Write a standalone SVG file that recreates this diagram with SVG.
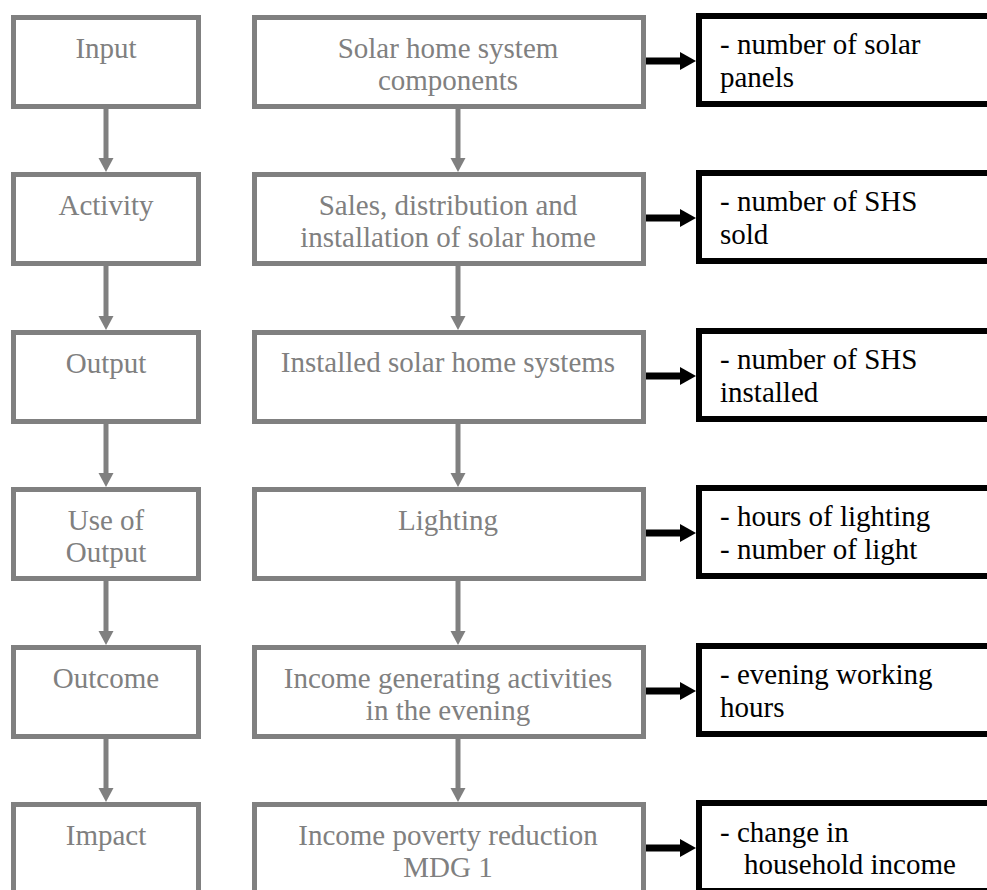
<svg xmlns="http://www.w3.org/2000/svg" width="987" height="890" viewBox="0 0 987 890">
<style>
.g{fill:#fff;stroke:#808080;stroke-width:5}
.b{fill:#fff;stroke:#000;stroke-width:6}
.tg{font-size:29px;fill:#808080;text-anchor:middle}
.tb{font-size:29px;fill:#000}
.ga{stroke:#808080;stroke-width:5;fill:none;marker-end:url(#gh)}
.ba{stroke:#000;stroke-width:7;fill:none;marker-end:url(#bh)}
</style>
<defs>
<marker id="gh" markerUnits="userSpaceOnUse" markerWidth="15" markerHeight="15" refX="0" refY="7.5" orient="auto" overflow="visible">
<path d="M0,0 L14,7.5 L0,15 Z" fill="#808080"/>
</marker>
<marker id="bh" markerUnits="userSpaceOnUse" markerWidth="17" markerHeight="18" refX="0" refY="9" orient="auto" overflow="visible">
<path d="M0,0 L16,9 L0,18 Z" fill="#000"/>
</marker>
</defs>
<rect width="987" height="890" fill="#fff"/>
<g id="connectors">
<line class="ga" x1="106" y1="109" x2="106" y2="158"/>
<line class="ga" x1="106" y1="266" x2="106" y2="316"/>
<line class="ga" x1="106" y1="424" x2="106" y2="473"/>
<line class="ga" x1="106" y1="581" x2="106" y2="631"/>
<line class="ga" x1="106" y1="739" x2="106" y2="788"/>
<line class="ga" x1="458" y1="109" x2="458" y2="158"/>
<line class="ga" x1="458" y1="266" x2="458" y2="316"/>
<line class="ga" x1="458" y1="424" x2="458" y2="473"/>
<line class="ga" x1="458" y1="581" x2="458" y2="631"/>
<line class="ga" x1="458" y1="739" x2="458" y2="788"/>
<line class="ba" x1="646" y1="61" x2="680" y2="61"/>
<line class="ba" x1="646" y1="218" x2="680" y2="218"/>
<line class="ba" x1="646" y1="376" x2="680" y2="376"/>
<line class="ba" x1="646" y1="533" x2="680" y2="533"/>
<line class="ba" x1="646" y1="691" x2="680" y2="691"/>
<line class="ba" x1="646" y1="848" x2="680" y2="848"/>
</g>
<g font-family="'Liberation Serif', Tinos, 'Times New Roman', 'DejaVu Serif', serif">
<g id="input">
<rect class="g" x="13.5" y="17.5" width="185" height="89"/>
<text class="tg" x="106" y="57.5">Input</text>
</g>
<g id="activity">
<rect class="g" x="13.5" y="174.5" width="185" height="89"/>
<text class="tg" x="106" y="214.5">Activity</text>
</g>
<g id="output">
<rect class="g" x="13.5" y="332.5" width="185" height="89"/>
<text class="tg" x="106" y="372.5">Output</text>
</g>
<g id="use-of-output">
<rect class="g" x="13.5" y="489.5" width="185" height="89"/>
<text class="tg" x="106" y="529.5">Use of</text>
<text class="tg" x="106" y="562">Output</text>
</g>
<g id="outcome">
<rect class="g" x="13.5" y="647.5" width="185" height="89"/>
<text class="tg" x="106" y="687.5">Outcome</text>
</g>
<g id="impact">
<rect class="g" x="13.5" y="804.5" width="185" height="89"/>
<text class="tg" x="106" y="844.5">Impact</text>
</g>
<g id="shs-components">
<rect class="g" x="254.5" y="17.5" width="389" height="89"/>
<text class="tg" x="448" y="57.5">Solar home system</text>
<text class="tg" x="448" y="90">components</text>
</g>
<g id="sales">
<rect class="g" x="254.5" y="174.5" width="389" height="89"/>
<text class="tg" x="448" y="214.5">Sales, distribution and</text>
<text class="tg" x="448" y="247">installation of solar home</text>
</g>
<g id="installed">
<rect class="g" x="254.5" y="332.5" width="389" height="89"/>
<text class="tg" x="448" y="372">Installed solar home systems</text>
</g>
<g id="lighting">
<rect class="g" x="254.5" y="489.5" width="389" height="89"/>
<text class="tg" x="448" y="529.5">Lighting</text>
</g>
<g id="income-activities">
<rect class="g" x="254.5" y="647.5" width="389" height="89"/>
<text class="tg" x="448" y="687.5">Income generating activities</text>
<text class="tg" x="448" y="720">in the evening</text>
</g>
<g id="poverty-reduction">
<rect class="g" x="254.5" y="804.5" width="389" height="89"/>
<text class="tg" x="448" y="844.5">Income poverty reduction</text>
<text class="tg" x="448" y="877">MDG 1</text>
</g>
<g id="ind-panels">
<rect class="b" x="699" y="16" width="400" height="88"/>
<text class="tb" x="720" y="54">- number of solar</text>
<text class="tb" x="720" y="87">panels</text>
</g>
<g id="ind-sold">
<rect class="b" x="699" y="173" width="400" height="88"/>
<text class="tb" x="720" y="211">- number of SHS</text>
<text class="tb" x="720" y="244">sold</text>
</g>
<g id="ind-installed">
<rect class="b" x="699" y="331" width="400" height="88"/>
<text class="tb" x="720" y="369">- number of SHS</text>
<text class="tb" x="720" y="402">installed</text>
</g>
<g id="ind-lighting">
<rect class="b" x="699" y="488" width="400" height="88"/>
<text class="tb" x="720" y="526">- hours of lighting</text>
<text class="tb" x="720" y="559">- number of light</text>
</g>
<g id="ind-hours">
<rect class="b" x="699" y="646" width="400" height="88"/>
<text class="tb" x="720" y="684">- evening working</text>
<text class="tb" x="720" y="717">hours</text>
</g>
<g id="ind-income">
<rect class="b" x="699" y="803" width="400" height="88"/>
<text class="tb" x="720" y="842">- change in</text>
<text class="tb" x="744" y="874">household income</text>
</g>
</g>
</svg>
